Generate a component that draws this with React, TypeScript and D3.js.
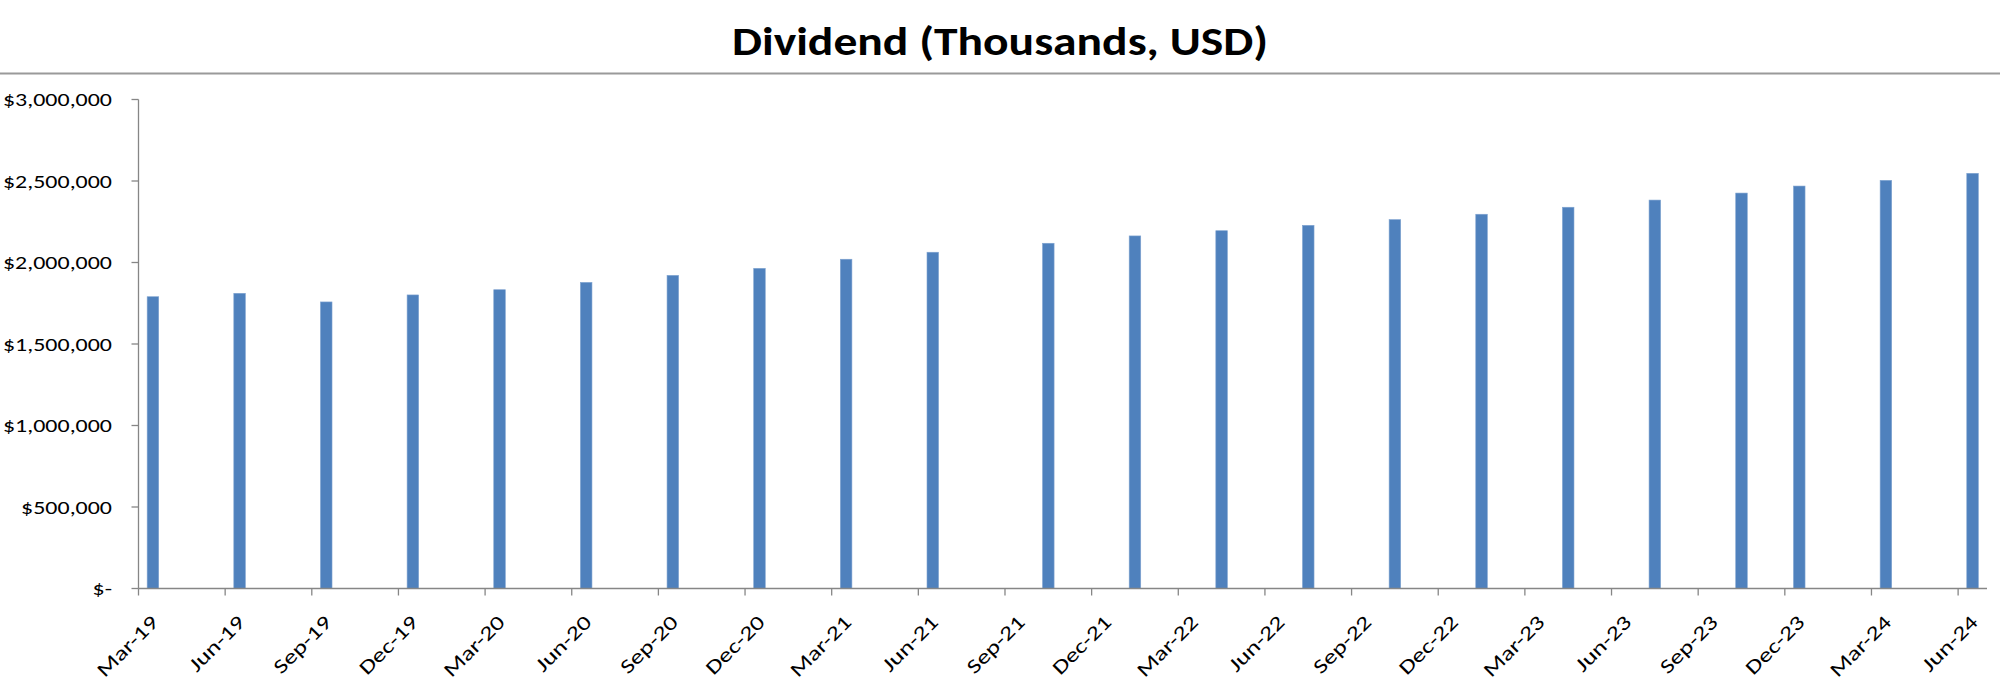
import React from "react";
import * as d3 from "d3";

// ---- data ----
const periods: string[] = [
  "2019-03", "2019-06", "2019-09", "2019-12",
  "2020-03", "2020-06", "2020-09", "2020-12",
  "2021-03", "2021-06", "2021-10",
  "2022-01", "2022-04", "2022-07", "2022-10",
  "2023-01", "2023-04", "2023-07", "2023-10", "2023-12",
  "2024-03", "2024-06",
];
const dividends: number[] = [
  1790000, 1811000, 1758000, 1801000,
  1833000, 1878000, 1921000, 1964000,
  2020000, 2063000, 2118000,
  2163000, 2195000, 2228000, 2263000,
  2296000, 2339000, 2383000, 2426000, 2469000,
  2504000, 2547000,
];
const yTicks: number[] = [0, 500000, 1000000, 1500000, 2000000, 2500000, 3000000];
const axisStart = "2019-03";
const axisEnd = "2024-07"; // exclusive
const title = "Dividend (Thousands, USD)";

const W = 2000;
const H = 687;
const plot = { left: 138.5, right: 1987, top: 99.5, bottom: 588.5 };

const parse = d3.utcParse("%Y-%m");
const fmtMonth = d3.utcFormat("%b-%y");
const keyFmt = d3.utcFormat("%Y-%m");
const fmtMoney = (v: number) => (v === 0 ? "$-" : "$" + d3.format(",")(v));

export default function App() {
  const months = d3.utcMonth.range(parse(axisStart)!, parse(axisEnd)!);
  const monthKeys = months.map((m) => keyFmt(m));
  const x = d3.scaleBand<string>().domain(monthKeys).range([plot.left, plot.right]).padding(0);
  const slot = x.bandwidth();
  const barW = slot / 2.5; // gap width 150%
  const y = d3.scaleLinear().domain([0, 3000000]).range([plot.bottom, plot.top]);
  const xTicks = months.filter((_, i) => i % 3 === 0);

  const axisColor = "#868686";
  const font = "Carlito, Calibri, Lato, 'Open Sans', sans-serif";

  return (
    <svg width={W} height={H} style={{ position: "absolute", left: 0, top: 0, background: "#fff" }}>
      <rect x={0} y={0} width={W} height={H} fill="#fff" />
      <text
        x={1000}
        y={55}
        textAnchor="middle"
        fontFamily={font}
        fontWeight={700}
        fontSize={41}
        textLength={536}
        lengthAdjust="spacingAndGlyphs"
        fill="#000"
      >
        {title}
      </text>
      <line x1={0} x2={W} y1={73.5} y2={73.5} stroke="#9a9a9a" strokeWidth={2} />

      {/* bars */}
      {periods.map((p, i) => {
        const k = keyFmt(parse(p)!);
        const cx = (x(k) as number) + slot / 2;
        return (
          <rect
            key={p}
            x={cx - barW / 2}
            y={y(dividends[i])}
            width={barW}
            height={y(0) - y(dividends[i])}
            fill="#4F81BD"
            stroke="#7FA3D0"
            strokeWidth={0.6}
          />
        );
      })}

      {/* y axis */}
      <line x1={plot.left} x2={plot.left} y1={plot.top} y2={plot.bottom} stroke={axisColor} strokeWidth={1.3} />
      {yTicks.map((t) => (
        <g key={t}>
          <line x1={plot.left - 7} x2={plot.left} y1={y(t)} y2={y(t)} stroke={axisColor} strokeWidth={1.3} />
          <text
            transform={`translate(112 ${y(t)}) scale(1.26 1)`}
            dy="0.36em"
            textAnchor="end"
            fontFamily={font}
            fontSize={19}
            fill="#000"
          >
            {fmtMoney(t)}
          </text>
        </g>
      ))}

      {/* x axis */}
      <line x1={plot.left} x2={plot.right} y1={plot.bottom} y2={plot.bottom} stroke={axisColor} strokeWidth={1.3} />
      {xTicks.map((m) => {
        const tx = x(keyFmt(m)) as number;
        const ax = tx + 21;
        const ay = plot.bottom + 35;
        return (
          <g key={keyFmt(m)}>
            <line x1={tx} x2={tx} y1={plot.bottom} y2={plot.bottom + 7} stroke={axisColor} strokeWidth={1.3} />
            <text
              transform={`translate(${ax} ${ay}) rotate(-45) scale(1.3 1)`}
              textAnchor="end"
              fontFamily={font}
              fontSize={20}
              fill="#000"
            >
              {fmtMonth(m)}
            </text>
          </g>
        );
      })}
    </svg>
  );
}
